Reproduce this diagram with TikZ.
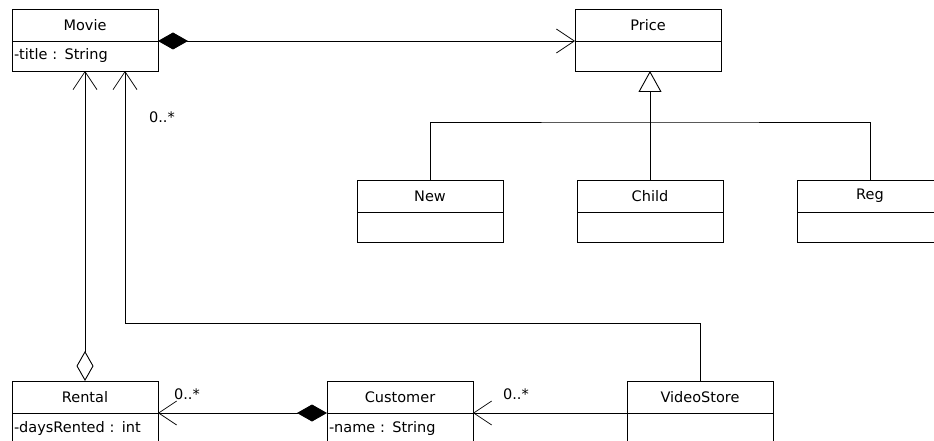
\documentclass[tikz,border=0pt]{standalone}
\usepackage{fontspec}
\newfontfamily\umlfont{DejaVu Sans}
\usetikzlibrary{arrows.meta}
\usetikzlibrary{positioning}

\tikzset{
  classhead/.style={draw, line width=0.9pt, minimum width=146pt, minimum height=32pt,
    inner sep=0pt, outer sep=0pt, font=\umlfont\fontsize{14.5}{17}\selectfont},
  classbody/.style={draw, line width=0.9pt, text width=142pt, inner xsep=2pt, inner ysep=0pt,
    minimum height=30pt, outer sep=0pt, align=left, font=\umlfont\fontsize{14.5}{17}\selectfont},
  mult/.style={inner sep=0pt, font=\umlfont\fontsize{14.5}{17}\selectfont},
  link/.style={line width=0.9pt},
  navigable/.style={link, arrows={-{Straight Barb[length=18pt,width=24pt,line width=0.7pt]}}},
  composition/.style={link, arrows={{Diamond[length=30pt,width=17pt]}-{Straight Barb[length=18pt,width=24pt,line width=0.7pt]}}},
  aggregation/.style={link, arrows={{Diamond[open,length=30pt,width=17pt]}-{Straight Barb[length=18pt,width=24pt,line width=0.7pt]}}},
  generalization/.style={link, arrows={-{Triangle[open,length=21pt,width=23pt]}}}
}

\begin{document}
\begin{tikzpicture}[x=1pt,y=-1pt]
  % Boundary
  \clip (0,0) rectangle (934,441);
  % Classes
  \node[classhead] (movie) at (85,25) {Movie};
  \node[classbody, below=0pt of movie] (movie-a) {-title : String};
  \node[classhead] (price) at (648,25) {Price};
  \node[classbody, below=0pt of price] (price-a) {};
  \node[classhead] (new) at (430,196) {New};
  \node[classbody, below=0pt of new] (new-a) {};
  \node[classhead] (child) at (650,196) {Child};
  \node[classbody, below=0pt of child] (child-a) {};
  \node[classhead] (reg) at (870,196) {Reg};
  \node[classbody, below=0pt of reg] (reg-a) {};
  \node[classhead] (rental) at (85,397) {Rental};
  \node[classbody, below=0pt of rental] (rental-a) {-daysRented : int};
  \node[classhead] (customer) at (400,397) {Customer};
  \node[classbody, below=0pt of customer] (customer-a) {-name : String};
  \node[classhead] (videostore) at (700,397) {VideoStore};
  \node[classbody, below=0pt of videostore] (videostore-a) {};
  % Bend points
  \coordinate (split) at (650,122);
  \coordinate (bend) at (125,323);
  % Movie - Price
  \draw[composition] (movie.south east) -- (price.south west);
  % Price subclasses
  \draw[generalization] (child.north) -- (child.north |- price-a.south);
  \draw[link] (new.north) |- (split) -| (reg.north);
  % Rental - Movie
  \draw[aggregation] (rental.north) -- (rental.north |- movie-a.south);
  % VideoStore - Movie
  \draw[navigable] (videostore.north) |- (bend) -- (bend |- movie-a.south);
  \node[mult] (movie-m) at (162,117) {0..*};
  % Customer - Rental
  \draw[composition] (customer.south west) -- (rental.south east);
  \node[mult] (rental-m) at (187,394) {0..*};
  % VideoStore - Customer
  \draw[navigable] (videostore.south west) -- (customer.south east);
  \node[mult] (customer-m) at (516,394) {0..*};
\end{tikzpicture}
\end{document}
